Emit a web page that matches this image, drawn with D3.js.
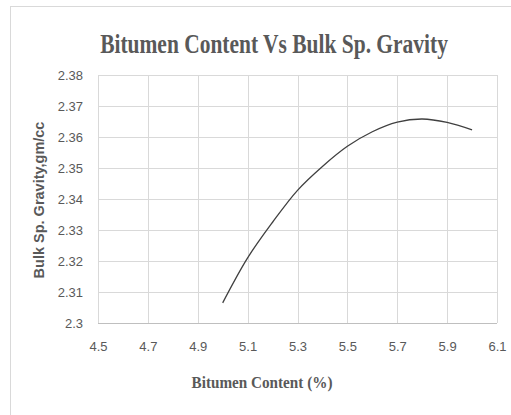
<!DOCTYPE html>
<html>
<head>
<meta charset="utf-8">
<script src="https://cdn.jsdelivr.net/npm/d3@7"></script>
<style>
  body { margin: 0; background: #fff; }
</style>
</head>
<body>
<div id="chart"></div>
<script>
// values
const bitumenContent = [5.0, 5.1, 5.2, 5.3, 5.4, 5.5, 5.6, 5.7, 5.8, 5.9, 6.0];
const bulkGravity = [2.3065, 2.321, 2.3325, 2.3428, 2.3505, 2.357, 2.3617, 2.3648, 2.3658, 2.3647, 2.3623];
const xTicks = [4.5, 4.7, 4.9, 5.1, 5.3, 5.5, 5.7, 5.9, 6.1];
const yTicks = [2.3, 2.31, 2.32, 2.33, 2.34, 2.35, 2.36, 2.37, 2.38];

const W = 511, H = 415;
const margin = { top: 75, right: 14, bottom: 92, left: 98 },
      width = W - margin.left - margin.right,
      height = H - margin.top - margin.bottom;

const root = d3.select("#chart").append("svg")
    .attr("width", W)
    .attr("height", H);

// outer chart frame (only left and top are visible in the picture)
root.append("rect")
    .attr("x", 10.5).attr("y", 6.5)
    .attr("width", W + 20).attr("height", H + 20)
    .attr("fill", "none")
    .attr("stroke", "#d9d9d9");

// squeeze a serif text horizontally to the width seen in the picture
function condensed(text, cx, cy, size, targetW) {
    const t = root.append("text")
        .attr("text-anchor", "middle")
        .style("font-family", "'Liberation Serif', 'Times New Roman', serif")
        .style("font-size", size + "px")
        .style("font-weight", "bold")
        .style("fill", "#595959")
        .text(text);
    const k = targetW / t.node().getComputedTextLength();
    t.attr("transform", `translate(${cx},${cy}) scale(${k},1)`);
    return t;
}

condensed("Bitumen Content Vs Bulk Sp. Gravity", 274, 53, 27, 348);

const svg = root.append("g")
    .attr("transform", `translate(${margin.left},${margin.top})`);

const x = d3.scaleLinear().domain([4.5, 6.1]).range([0, width]);
const y = d3.scaleLinear().domain([2.3, 2.38]).range([height, 0]);

// grid
svg.append("g")
   .selectAll("line")
   .data(xTicks)
   .join("line")
   .attr("x1", d => Math.round(x(d)) + 0.5).attr("x2", d => Math.round(x(d)) + 0.5)
   .attr("y1", 0).attr("y2", height)
   .attr("stroke", "#d9d9d9");

svg.append("g")
   .selectAll("line")
   .data(yTicks)
   .join("line")
   .attr("x1", 0).attr("x2", width)
   .attr("y1", d => Math.round(y(d)) + 0.5).attr("y2", d => Math.round(y(d)) + 0.5)
   .attr("stroke", d => d === 2.3 ? "#bfbfbf" : "#d9d9d9");

// axes (labels only, styled like the source)
const xAxis = svg.append("g")
   .attr("transform", `translate(0,${height + 16})`)
   .call(d3.axisBottom(x).tickValues(xTicks).tickFormat(d3.format("")).tickSize(0));
const yAxis = svg.append("g")
   .attr("transform", "translate(-12,0)")
   .call(d3.axisLeft(y).tickValues(yTicks).tickFormat(d => String(+d.toFixed(2))).tickSize(0));

[xAxis, yAxis].forEach(a => {
    a.select(".domain").remove();
    a.selectAll("text")
     .style("font-family", "'Liberation Sans', Arial, sans-serif")
     .style("font-size", "13px")
     .style("fill", "#595959");
});

// curve
const line = d3.line()
    .x((d, i) => x(bitumenContent[i]))
    .y(d => y(d))
    .curve(d3.curveCatmullRom);

svg.append("path")
   .datum(bulkGravity)
   .attr("d", line)
   .attr("fill", "none")
   .attr("stroke", "#404040")
   .attr("stroke-width", 1.3);

// axis titles
condensed("Bitumen Content (%)", 262, 388, 17, 141);

root.append("text")
    .attr("transform", "translate(44,200) rotate(-90)")
    .attr("text-anchor", "middle")
    .style("font-family", "'Liberation Sans', Arial, sans-serif")
    .style("font-size", "14.5px")
    .style("font-weight", "bold")
    .style("fill", "#595959")
    .text("Bulk Sp. Gravity,gm/cc");
</script>
</body>
</html>
